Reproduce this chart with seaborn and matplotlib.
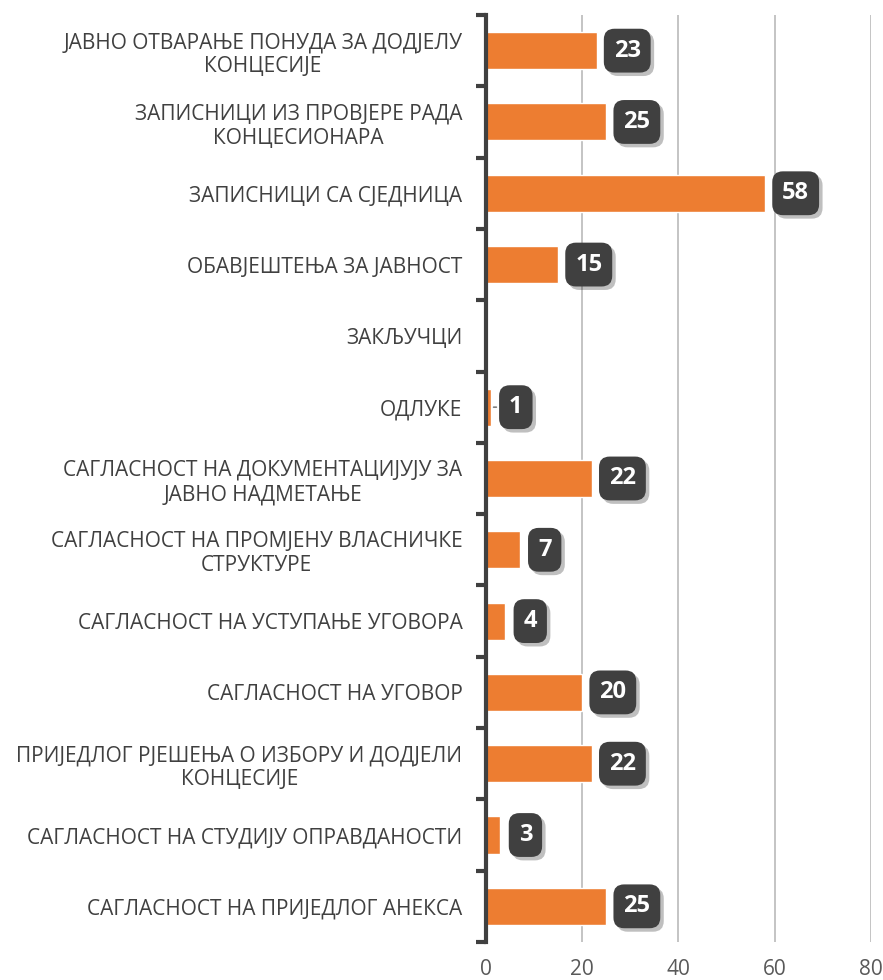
import matplotlib
matplotlib.use("Agg")
import matplotlib.pyplot as plt
import matplotlib.patheffects as pe
import seaborn as sns
import pandas as pd
import numpy as np

categories = [
    "ЈАВНО ОТВАРАЊЕ ПОНУДА ЗА ДОДЈЕЛУ\nКОНЦЕСИЈЕ",
    "ЗАПИСНИЦИ ИЗ ПРОВЈЕРЕ РАДА\nКОНЦЕСИОНАРА",
    "ЗАПИСНИЦИ СА СЈЕДНИЦА",
    "ОБАВЈЕШТЕЊА ЗА ЈАВНОСТ",
    "ЗАКЉУЧЦИ",
    "ОДЛУКЕ",
    "САГЛАСНОСТ НА ДОКУМЕНТАЦИЈУЈУ ЗА\nЈАВНО НАДМЕТАЊЕ",
    "САГЛАСНОСТ НА ПРОМЈЕНУ ВЛАСНИЧКЕ\nСТРУКТУРЕ",
    "САГЛАСНОСТ НА УСТУПАЊЕ УГОВОРА",
    "САГЛАСНОСТ НА УГОВОР",
    "ПРИЈЕДЛОГ РЈЕШЕЊА О ИЗБОРУ И ДОДЈЕЛИ\nКОНЦЕСИЈЕ",
    "САГЛАСНОСТ НА СТУДИЈУ ОПРАВДАНОСТИ",
    "САГЛАСНОСТ НА ПРИЈЕДЛОГ АНЕКСА",
]
values = [23, 25, 58, 15, 0, 1, 22, 7, 4, 20, 22, 3, 25]
x_ticks = [0, 20, 40, 60, 80]

df = pd.DataFrame({"category": categories, "value": values})

sns.set_theme(style="white")
plt.rcParams["font.family"] = ["Open Sans", "DejaVu Sans"]

fig = plt.figure(figsize=(8.83, 9.8), dpi=100)
ax = fig.add_axes([0.5504, 0.0388, 0.4360, 0.9459])

sns.barplot(data=df, y="category", x="value", orient="h", color="#ED7D31",
            saturation=1, width=0.52, ax=ax)

ax.set_xlim(0, 80)
ax.set_ylim(len(categories) - 0.5, -0.5)
ax.set_xticks(x_ticks)
ax.set_xticklabels([str(t) for t in x_ticks], fontsize=15, color="#595959")
ax.set_xlabel("")
ax.set_ylabel("")
ax.xaxis.grid(True, color="#BFBFBF", linewidth=1.3)
ax.set_axisbelow(True)
for s in ["top", "right", "bottom"]:
    ax.spines[s].set_visible(False)
ax.spines["left"].set_color("#404040")
ax.spines["left"].set_linewidth(3)
ax.tick_params(axis="x", length=0, pad=12)
ax.tick_params(axis="y", which="major", left=False, length=0, pad=17)
ax.set_yticks(np.arange(-0.5, len(categories), 1.0), minor=True)
ax.tick_params(axis="y", which="minor", left=True, length=7, width=3, color="#404040")
for lbl in ax.get_yticklabels():
    lbl.set_fontsize(15)
    lbl.set_color("#404040")
    lbl.set_multialignment("center")
    lbl.set_linespacing(1.2)

for i, v in enumerate(values):
    if v == 0:
        continue
    off = 22 if v >= 10 else 18
    t = ax.annotate(str(v), xy=(v, i), xytext=(off, 0), textcoords="offset points",
                    ha="center", va="center", fontsize=17, fontweight="bold",
                    color="white",
                    bbox=dict(boxstyle="round,pad=0.42,rounding_size=0.45",
                              fc="#404040", ec="none"))
    t.get_bbox_patch().set_path_effects([
        pe.SimplePatchShadow(offset=(2.5, -2.5), shadow_rgbFace="#000000", alpha=0.25),
        pe.Normal()])
    if v < 3:
        ax.annotate("", xy=(v, i), xytext=(off - 12, 0), textcoords="offset points",
                    xycoords="data",
                    arrowprops=dict(arrowstyle="-", color="#7F7F7F", lw=1.2))

fig.savefig("out.png", dpi=100)
